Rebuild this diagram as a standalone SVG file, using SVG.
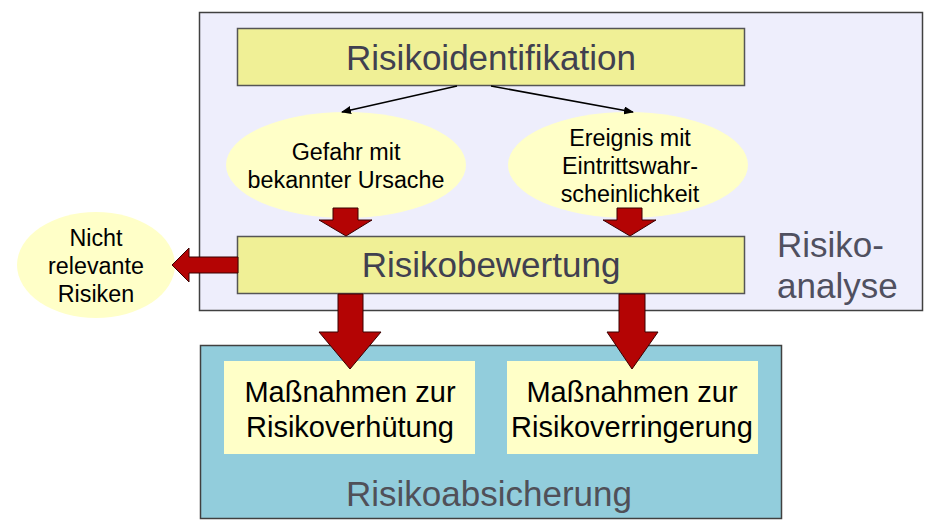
<svg xmlns="http://www.w3.org/2000/svg" width="937" height="530" viewBox="0 0 937 530">
<defs>
<style>
text{font-family:"Liberation Sans",Arial,sans-serif;text-anchor:middle}
.big{font-size:35px;fill:#404050}
.lbl{font-size:23.3px;fill:#000}
.mid{font-size:29px;fill:#000}
.ybox{fill:#F0F096;stroke:#555;stroke-width:1.5}
.ell{fill:#FFFFC8}
.fat{fill:#B40404;stroke:#3a0000;stroke-width:1}
.thin{stroke:#000;stroke-width:1.5;fill:none;marker-end:url(#ah)}
</style>
<marker id="ah" markerWidth="10" markerHeight="8" refX="9" refY="4" orient="auto" markerUnits="userSpaceOnUse">
<path d="M0,0 L10,4 L0,8 Z" fill="#000"/>
</marker>
</defs>
<rect width="937" height="530" fill="#fff"/>
<g id="risikoanalyse">
<rect x="199.5" y="12.5" width="723" height="298" fill="#EEEEFC" stroke="#404040" stroke-width="1.5"/>
<text class="big" x="777" y="257" style="text-anchor:start;fill:#505060">Risiko-</text>
<text class="big" x="777" y="298" style="text-anchor:start;fill:#505060">analyse</text>
</g>
<g id="risikoabsicherung">
<rect x="200.5" y="345.5" width="581" height="173" fill="#92CDDC" stroke="#404040" stroke-width="1.5"/>
<text class="big" x="489" y="506" style="fill:#505058">Risikoabsicherung</text>
</g>
<g id="risikoidentifikation">
<rect class="ybox" x="237.5" y="28.5" width="507" height="57"/>
<text class="big" x="491" y="70">Risikoidentifikation</text>
</g>
<g id="gefahr">
<ellipse class="ell" cx="346" cy="165" rx="120" ry="53"/>
<text class="lbl" x="346" y="160">Gefahr mit</text>
<text class="lbl" x="346" y="188">bekannter Ursache</text>
</g>
<g id="ereignis">
<ellipse class="ell" cx="628" cy="165" rx="120" ry="53"/>
<text class="lbl" x="630" y="146">Ereignis mit</text>
<text class="lbl" x="630" y="174">Eintrittswahr-</text>
<text class="lbl" x="630" y="202">scheinlichkeit</text>
</g>
<g id="risikobewertung">
<rect class="ybox" x="237.5" y="236.5" width="507" height="57"/>
<text class="big" x="491" y="277">Risikobewertung</text>
</g>
<g id="nicht-relevant">
<ellipse class="ell" cx="96" cy="265" rx="79" ry="53"/>
<text class="lbl" x="96" y="246">Nicht</text>
<text class="lbl" x="96" y="274">relevante</text>
<text class="lbl" x="96" y="302">Risiken</text>
</g>
<g id="verhuetung">
<rect x="224" y="361" width="251" height="93" fill="#FFFFC8"/>
<text class="mid" x="350" y="402">Maßnahmen zur</text>
<text class="mid" x="350" y="437">Risikoverhütung</text>
</g>
<g id="verringerung">
<rect x="507" y="361" width="251" height="93" fill="#FFFFC8"/>
<text class="mid" x="632" y="402">Maßnahmen zur</text>
<text class="mid" x="632" y="437">Risikoverringerung</text>
</g>
<g id="connectors">
<line class="thin" x1="457" y1="86" x2="342" y2="112"/>
<line class="thin" x1="491" y1="86" x2="633" y2="112"/>
<path class="fat" d="M333,208 H358 V220 H372 L346,236 L319,220 H333 Z"/>
<path class="fat" d="M617,208 H642 V220 H656 L630,236 L603,220 H617 Z"/>
<path class="fat" d="M238,257 V273 H189 V282 L172,265 L189,248 V257 Z"/>
<path class="fat" d="M338,294 H363 V332 H381 L350,369 L319,332 H338 Z"/>
<path class="fat" d="M619,294 H645 V332 H658 L632,369 L607,332 H619 Z"/>
</g>
</svg>
